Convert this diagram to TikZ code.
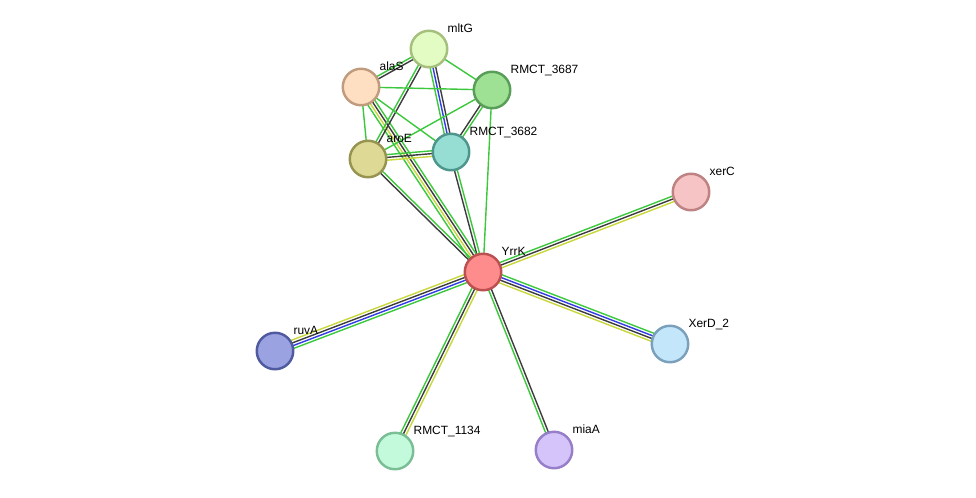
\documentclass[tikz,border=0pt]{standalone}
\usepackage{fontspec}
\setmainfont{Liberation Sans}
\usetikzlibrary{%
  calc,%
  backgrounds,% edges behind the proteins
  positioning%
}

\definecolor{nbgreen}{RGB}{60,200,60}
\definecolor{cocblack}{RGB}{60,60,60}
\definecolor{coblue}{RGB}{50,60,230}
\definecolor{txtyellow}{RGB}{200,215,60}

% parallel evidence lines between two proteins, list of offset/colour
\newcommand\evid[3]{%
  \foreach \o/\c in {#3} {
    \draw[evline,\c] ($(#1.center)!\o pt!90:(#2.center)$) -- ($(#2.center)!\o pt!-90:(#1.center)$);
  }%
}

\begin{document}
\begin{tikzpicture}
[x=0.02cm, y=-0.02cm, font=\fontsize{6.8}{8}\selectfont,
prot/.style={circle, draw, line width=1.4pt, minimum size=0.73cm, inner sep=0pt},
lbl/.style={anchor=base west, inner sep=0pt, xshift=0.09cm, yshift=0.06cm},
evline/.style={line width=0.8pt}]

\useasboundingbox (0,0) rectangle (976,497);

\node[prot, fill={rgb,255:red,226;green,252;blue,196}, draw={rgb,255:red,165;green,192;blue,125}, label={[lbl]north east:mltG}] (mltG) at (429,49) {};
\node[prot, fill={rgb,255:red,255;green,223;blue,194}, draw={rgb,255:red,192;green,155;blue,125}, label={[lbl]north east:alaS}] (alaS) at (361,87) {};
\node[prot, fill={rgb,255:red,158;green,224;blue,148}, draw={rgb,255:red,88;green,158;blue,88}, label={[lbl]north east:RMCT\_3687}] (r3687) at (492,90) {};
\node[prot, fill={rgb,255:red,150;green,222;blue,212}, draw={rgb,255:red,78;green,150;blue,140}, label={[lbl]north east:RMCT\_3682}] (r3682) at (451,152) {};
\node[prot, fill={rgb,255:red,222;green,218;blue,150}, draw={rgb,255:red,150;green,148;blue,80}, label={[lbl]north east:aroE}] (aroE) at (368,159) {};
\node[prot, fill={rgb,255:red,246;green,196;blue,196}, draw={rgb,255:red,190;green,130;blue,130}, label={[lbl]north east:xerC}] (xerC) at (691,192) {};
\node[prot, fill={rgb,255:red,255;green,140;blue,140}, draw={rgb,255:red,188;green,80;blue,80}, label={[lbl]north east:YrrK}] (yrrK) at (483,272) {};
\node[prot, fill={rgb,255:red,155;green,162;blue,225}, draw={rgb,255:red,80;green,90;blue,158}, label={[lbl]north east:ruvA}] (ruvA) at (275,351) {};
\node[prot, fill={rgb,255:red,196;green,230;blue,250}, draw={rgb,255:red,122;green,160;blue,188}, label={[lbl]north east:XerD\_2}] (xerD) at (670,344) {};
\node[prot, fill={rgb,255:red,196;green,250;blue,220}, draw={rgb,255:red,122;green,190;blue,150}, label={[lbl]north east:RMCT\_1134}] (r1134) at (395,451) {};
\node[prot, fill={rgb,255:red,212;green,196;blue,250}, draw={rgb,255:red,150;green,126;blue,200}, label={[lbl]north east:miaA}] (miaA) at (554,450) {};

\begin{pgfonlayer}{background}
% hub
\evid{yrrK}{xerC}{1.6/nbgreen, 0/cocblack, -1.6/txtyellow}
\evid{yrrK}{xerD}{2.4/nbgreen, 0.8/coblue, -0.8/cocblack, -2.4/txtyellow}
\evid{yrrK}{ruvA}{2.4/nbgreen, 0.8/coblue, -0.8/cocblack, -2.4/txtyellow}
\evid{yrrK}{r1134}{-1.6/nbgreen, 0/cocblack, 1.6/txtyellow}
\evid{yrrK}{miaA}{-0.8/nbgreen, 0.8/cocblack}
\evid{yrrK}{r3682}{-0.8/nbgreen, 0.8/cocblack}
\evid{yrrK}{r3687}{0/nbgreen}
\evid{yrrK}{aroE}{-0.8/nbgreen, 0.8/cocblack}
\evid{yrrK}{alaS}{-2.4/nbgreen, -0.8/cocblack, 0.8/txtyellow, 2.4/nbgreen}
% top cluster
\evid{mltG}{alaS}{-0.8/nbgreen, 0.8/cocblack}
\evid{mltG}{aroE}{-0.8/nbgreen, 0.8/cocblack}
\evid{mltG}{r3687}{0/nbgreen}
\evid{mltG}{r3682}{-1.6/nbgreen, 0/coblue, 1.6/cocblack}
\evid{alaS}{r3687}{0/nbgreen}
\evid{alaS}{aroE}{0/nbgreen}
\evid{alaS}{r3682}{0/nbgreen}
\evid{aroE}{r3687}{0/nbgreen}
\evid{aroE}{r3682}{-1.6/txtyellow, 0/cocblack, 1.6/nbgreen}
\evid{r3687}{r3682}{-0.8/cocblack, 0.8/nbgreen}
\end{pgfonlayer}
\end{tikzpicture}
\end{document}
